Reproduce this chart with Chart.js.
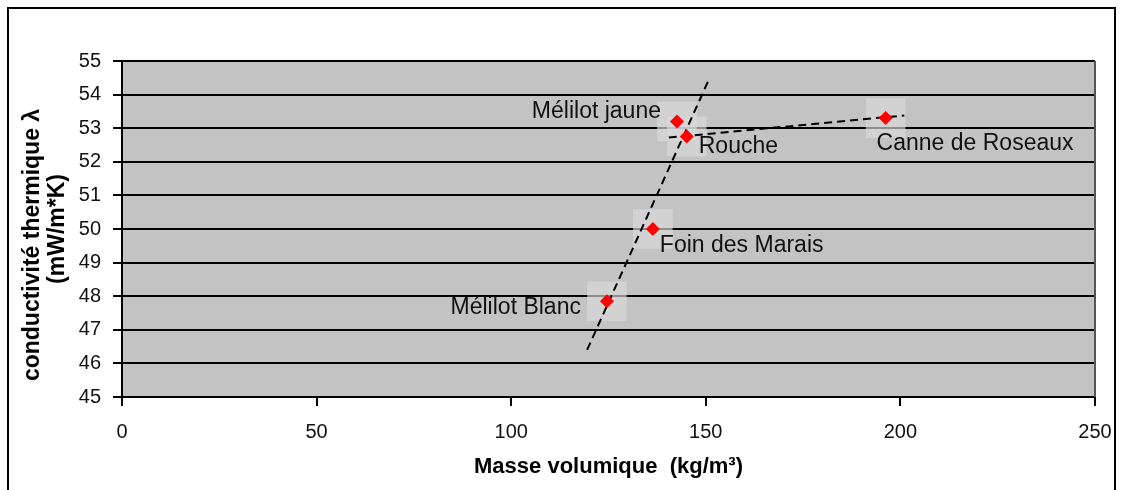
<!DOCTYPE html>
<html>
<head>
<meta charset="utf-8">
<script src="https://cdn.jsdelivr.net/npm/chart.js@4/dist/chart.umd.min.js"></script>
<style>
  html, body { margin: 0; padding: 0; background: #fff; }
  #wrap { width: 1123px; height: 490px; position: relative; }
</style>
</head>
<body>
<div id="wrap"><canvas id="massChart" width="1123" height="490"></canvas></div>
<script>
// samples
const names = ['Mélilot jaune', 'Rouche', 'Canne de Roseaux', 'Foin des Marais', 'Mélilot Blanc'];
const density = [142.6, 145.1, 196.2, 136.4, 124.6];
const conductivity = [53.2, 52.75, 53.3, 50.0, 47.85];

// label offsets in px (dx, dy, align)
const labelDx = [-16, 12, -9, 7, -26];
const labelDy = [-10, 10, 26, 17, 6];
const labelAlign = ['right', 'left', 'left', 'left', 'right'];

// dashed trend lines
const trendA_x = [119.5, 150.6];
const trendA_y = [46.4, 54.4];
const trendB_x = [140.5, 201.0];
const trendB_y = [52.72, 53.38];

const xTicks = [0, 50, 100, 150, 200, 250];

const FONT = '"Liberation Sans", Arial, sans-serif';
const NARROW = '"Liberation Sans Narrow", "Arial Narrow", "Liberation Sans", sans-serif';

const toPts = (xs, ys) => xs.map((x, i) => ({ x: x, y: ys[i] }));

const frameAndBack = {
    id: 'frameAndBack',
    beforeDraw(chart) {
        const { ctx, chartArea: a } = chart;
        ctx.save();
        ctx.fillStyle = '#c3c3c3';
        ctx.fillRect(a.left, a.top, a.right - a.left, a.bottom - a.top);
        ctx.strokeStyle = '#000';
        ctx.lineWidth = 2;
        ctx.strokeRect(8, 8, 1107, 500);
        ctx.restore();
    },
    afterDatasetsDraw(chart) {
        const { ctx, chartArea: a, scales } = chart;
        ctx.save();
        ctx.strokeStyle = '#555';
        ctx.lineWidth = 2;
        ctx.beginPath();
        ctx.moveTo(a.right, a.top);
        ctx.lineTo(a.right, a.bottom);
        ctx.stroke();
        ctx.font = '23px ' + FONT;
        ctx.fillStyle = '#111';
        ctx.textBaseline = 'middle';
        names.forEach((n, i) => {
            const px = scales.x.getPixelForValue(density[i]);
            const py = scales.y.getPixelForValue(conductivity[i]);
            ctx.textAlign = labelAlign[i];
            ctx.fillText(n, px + labelDx[i], py + labelDy[i]);
        });
        ctx.restore();
    }
};

new Chart(document.getElementById('massChart'), {
    type: 'scatter',
    data: {
        datasets: [
            {
                label: 'halo',
                data: toPts(density, conductivity),
                pointStyle: 'rect',
                pointRadius: 28,
                backgroundColor: 'rgba(218,218,218,0.65)',
                borderWidth: 0,
                order: 3,
            },
            {
                label: 'trend A',
                type: 'line',
                data: toPts(trendA_x, trendA_y),
                borderColor: '#000',
                borderWidth: 2,
                borderDash: [8, 5],
                pointRadius: 0,
                fill: false,
                order: 2,
            },
            {
                label: 'trend B',
                type: 'line',
                data: toPts(trendB_x, trendB_y),
                borderColor: '#000',
                borderWidth: 2,
                borderDash: [8, 5],
                pointRadius: 0,
                fill: false,
                order: 2,
            },
            {
                label: 'samples',
                data: toPts(density, conductivity),
                pointStyle: 'rectRot',
                pointRadius: 7,
                backgroundColor: '#ff0000',
                borderColor: '#ff0000',
                borderWidth: 0,
                order: 1,
            },
        ],
    },
    options: {
        responsive: false,
        animation: false,
        layout: { padding: { top: 61, right: 23, left: 20, bottom: 6 } },
        plugins: {
            legend: { display: false },
            tooltip: { enabled: false },
        },
        scales: {
            x: {
                type: 'linear',
                min: 0,
                max: 250,
                afterBuildTicks: s => { s.ticks = xTicks.map(v => ({ value: v })); },
                afterFit: s => { s.height = 87; s.paddingRight = 0; s.paddingLeft = 0; },
                ticks: {
                    color: '#111',
                    padding: 14,
                    font: { size: 20, family: NARROW },
                },
                grid: { drawOnChartArea: false, drawTicks: true, tickLength: 9, color: '#000', lineWidth: 2 },
                border: { color: '#000', width: 2 },
                title: {
                    display: true,
                    text: 'Masse volumique  (kg/m³)',
                    color: '#000',
                    padding: { top: 0 },
                    font: { size: 22, weight: 'bold', family: FONT },
                },
            },
            y: {
                type: 'linear',
                min: 45,
                max: 55,
                afterFit: s => { s.width = 102; },
                ticks: {
                    stepSize: 1,
                    color: '#111',
                    padding: 12,
                    font: { size: 20, family: FONT },
                },
                grid: { color: '#000', lineWidth: 2, tickLength: 9 },
                border: { color: '#000', width: 2 },
                title: {
                    display: true,
                    text: ['conductivité thermique λ     ', '(mW/m*K)'],
                    color: '#000',
                    padding: { top: 0, bottom: 0 },
                    font: { size: 23, weight: 'bold', family: FONT, lineHeight: 1.1 },
                },
            },
        },
    },
    plugins: [frameAndBack],
});
</script>
</body>
</html>
